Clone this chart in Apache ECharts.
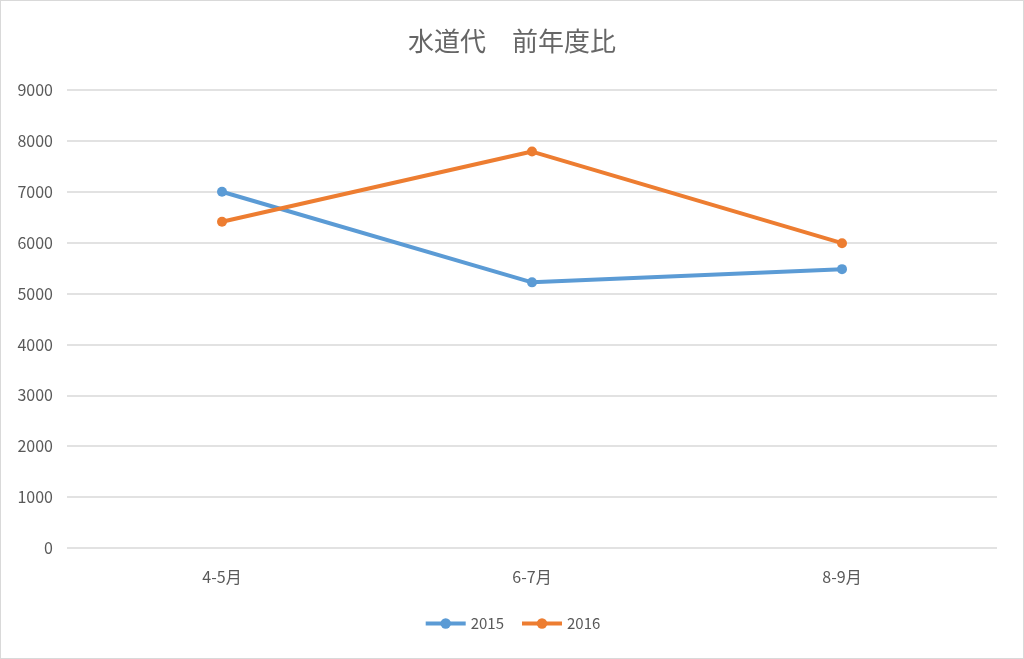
<!DOCTYPE html>
<html>
<head>
<meta charset="utf-8">
<script src="https://cdn.jsdelivr.net/npm/echarts@6/dist/echarts.min.js"></script>
<style>
	html,body{margin:0;padding:0;background:#fff;}
	#main{position:absolute;left:0;top:0;width:1022px;height:657px;border:1px solid #d9d9d9;}
</style>
</head>
<body>
<div id="main"></div>
<script>
var categories = ['4-5月', '6-7月', '8-9月'];
var seriesNames = ['2015', '2016'];
var values2015 = [7000, 5220, 5480];
var values2016 = [6410, 7790, 5990];
var yTicks = { min: 0, max: 9000, interval: 1000 };

var color = ['#5b9bd5', '#ed7d31'];
var font = "'Noto Sans CJK JP', 'Liberation Sans', sans-serif";

var chart = echarts.init(document.getElementById('main'));
var option = {
	color: color,
	animation: false,
	title: {
		text: '水道代　前年度比',
		left: 'center',
		top: 22,
		textStyle: {
			fontWeight: 'normal',
			fontSize: 26,
			color: '#666666',
			fontFamily: font
		}
	},
	legend: {
		data: seriesNames,
		bottom: 22,
		left: 'center',
		itemWidth: 40,
		itemHeight: 13,
		itemGap: 16,
		lineStyle: { width: 4 },
		textStyle: { color: '#595959', fontSize: 15, fontFamily: font }
	},
	grid: {
		left: 66,
		right: 26,
		top: 89,
		bottom: 110
	},
	xAxis: {
		type: 'category',
		data: categories,
		boundaryGap: true,
		axisLine: { show: false },
		axisTick: { show: false },
		axisLabel: { color: '#595959', fontSize: 16, margin: 21, fontFamily: font }
	},
	yAxis: {
		type: 'value',
		min: yTicks.min,
		max: yTicks.max,
		interval: yTicks.interval,
		axisLine: { show: false },
		axisTick: { show: false },
		axisLabel: {
			color: '#595959', fontSize: 16, margin: 14, fontFamily: font,
			formatter: function(v){ return String(v); }
		},
		splitLine: { lineStyle: { color: '#d9d9d9', width: 1.5 } }
	},
	series: [
		{
			name: seriesNames[0],
			type: 'line',
			data: values2015,
			symbol: 'circle',
			symbolSize: 10,
			lineStyle: { width: 4 }
		},
		{
			name: seriesNames[1],
			type: 'line',
			data: values2016,
			symbol: 'circle',
			symbolSize: 10,
			lineStyle: { width: 4 }
		}
	]
};
chart.setOption(option);
</script>
</body>
</html>
